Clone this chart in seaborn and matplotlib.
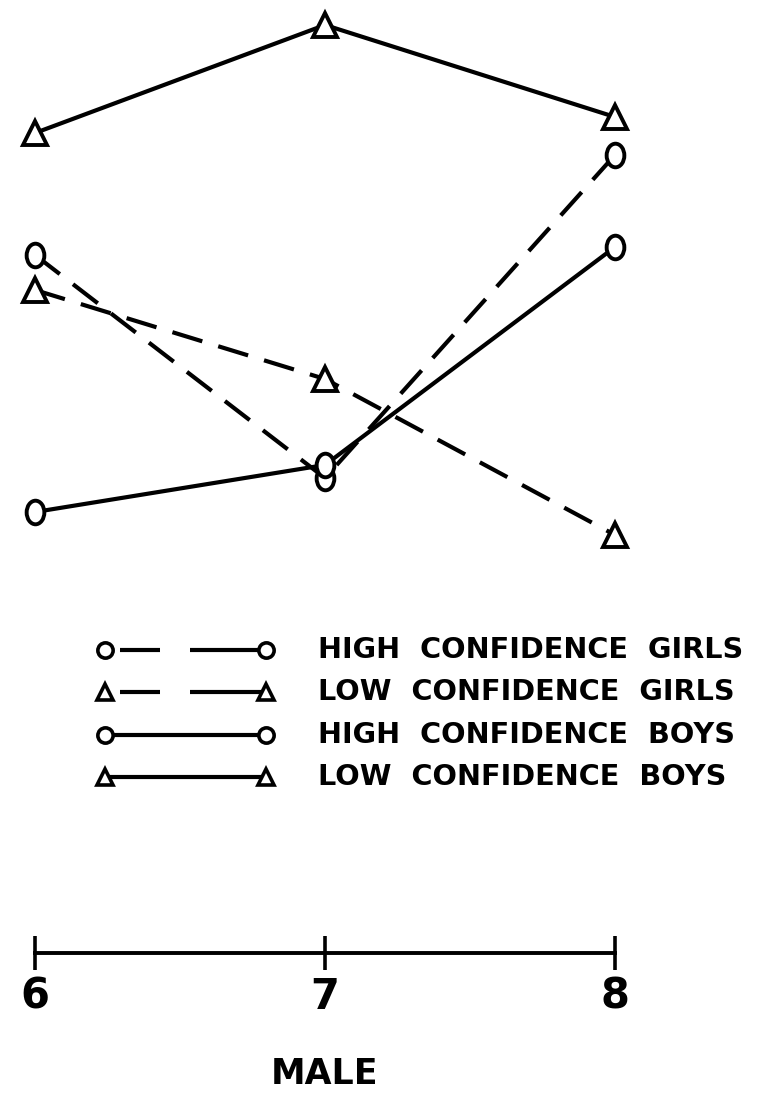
import matplotlib
matplotlib.use("Agg")
import numpy as np
import pandas as pd
import seaborn as sns
import matplotlib.pyplot as plt
from matplotlib.path import Path
from matplotlib.markers import MarkerStyle

# ---- data (arbitrary vertical units) ----
ages = [6, 7, 8]
high_conf_girls = [29.5, 7.2, 39.5]
low_conf_girls = [26.0, 17.1, 1.5]
high_conf_boys = [3.8, 8.5, 30.3]
low_conf_boys = [41.7, 52.5, 43.3]
legend_labels = ["HIGH  CONFIDENCE  GIRLS", "LOW  CONFIDENCE  GIRLS",
                 "HIGH  CONFIDENCE  BOYS", "LOW  CONFIDENCE  BOYS"]
tick_labels = ["6", "7", "8"]
x_label = "MALE"

sns.set_theme(style="white")
plt.rcParams["font.family"] = ["DejaVu Sans"]

W, H = 760, 1102
fig = plt.figure(figsize=(W / 100, H / 100), dpi=100)
fig.patch.set_facecolor("white")

# oval marker (taller than wide) like the hand-drawn circles
uc = Path.unit_circle()
oval = MarkerStyle(Path(uc.vertices * np.array([0.75, 1.0]), uc.codes))

dash = (0, (7.5, 4))
series = [
    (high_conf_girls, oval, dash),
    (low_conf_girls, "^", dash),
    (high_conf_boys, oval, "-"),
    (low_conf_boys, "^", "-"),
]

ax = fig.add_axes([35 / W, 1 - 535 / H, 580 / W, 510 / H])
ax.set_facecolor("none")
for vals, mk, ls in series:
    sns.lineplot(x=ages, y=vals, ax=ax, color="black", linewidth=3,
                 linestyle=ls, marker=mk, markersize=17,
                 markerfacecolor="white", markeredgecolor="black",
                 markeredgewidth=2.8, errorbar=None, clip_on=False)

ax.set_xlim(6, 8)
ax.set_ylim(1.5, 52.5)
for s in ["left", "top", "right"]:
    ax.spines[s].set_visible(False)
ax.spines["bottom"].set_position(("axes", -(953 - 535) / 510))
ax.spines["bottom"].set_linewidth(2.8)
ax.spines["bottom"].set_color("black")
ax.set_yticks([])
ax.set_xticks(ages, tick_labels)
ax.tick_params(axis="x", bottom=True, direction="inout", length=25,
               width=2.6, pad=4, labelsize=30, colors="black")
for t in ax.get_xticklabels():
    t.set_fontweight("bold")
ax.set_xlabel(x_label, fontsize=25, fontweight="bold", labelpad=28,
              color="black")

# ---- legend drawn as key graphics + text ----
lax = fig.add_axes([0, 0, 1, 1])
lax.set_xlim(0, W)
lax.set_ylim(H, 0)
lax.axis("off")
rows_y = [650, 692, 735, 777]
leg_dash = (0, (0.001, 3.6, 9.6, 7.2, 20, 5))
leg_styles = [("o", leg_dash), ("^", leg_dash), ("o", "-"), ("^", "-")]
fig.canvas.draw()
renderer = fig.canvas.get_renderer()
base_size = 22
for y, (mk, ls), lab in zip(rows_y, leg_styles, legend_labels):
    lax.plot([105, 266], [y, y], color="black", linewidth=3, linestyle=ls,
             marker=mk, markersize=11, markerfacecolor="white",
             markeredgecolor="black", markeredgewidth=2.6, clip_on=False)
    txt = lax.text(318, y, lab, ha="left", va="center", fontsize=22,
                   fontweight="bold", color="black")
    if lab == legend_labels[0]:
        bb = txt.get_window_extent(renderer=renderer)
        base_size = 22 * (742 - 318) / bb.width
for txt in lax.texts:
    txt.set_fontsize(base_size)

fig.savefig("out.png", dpi=100, facecolor="white")
